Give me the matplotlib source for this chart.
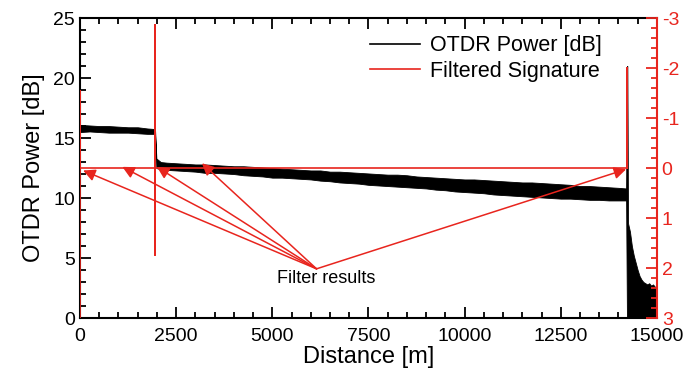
import numpy as np
import matplotlib
matplotlib.use('Agg')
import matplotlib.pyplot as plt
from matplotlib.ticker import MultipleLocator
from matplotlib.lines import Line2D

plt.rcParams['font.family'] = ['Liberation Sans', 'DejaVu Sans']

red = '#e8251e'

# OTDR trace, read as upper / lower edge of the noisy band [dB]
dist = [0, 250, 500, 750, 1000, 1250, 1500, 1750, 1950,
        1985, 2100, 2250, 2500, 2750, 3000, 3250, 3500, 3750, 4000, 4250, 4500,
        4750, 5000, 5250, 5500, 5750, 6000, 6250, 6500, 6750, 7000, 7250, 7500,
        7750, 8000, 8250, 8500, 8750, 9000, 9250, 9500, 9750, 10000, 10250,
        10500, 10750, 11000, 11250, 11500, 11750, 12000, 12250, 12500, 12750,
        13000, 13250, 13500, 13750, 14000, 14200,
        14222, 14232, 14250, 14300, 14350, 14400, 14450, 14500, 14550, 14600,
        14650, 14700, 14750, 14800, 14850, 14900, 14950, 15000]
upper = [16.1, 16.05, 16.0, 16.0, 15.95, 15.9, 15.9, 15.8, 15.75,
         13.3, 13.0, 12.95, 12.9, 12.85, 12.8, 12.8, 12.75, 12.7, 12.65, 12.65, 12.6,
         12.55, 12.5, 12.45, 12.4, 12.35, 12.3, 12.3, 12.2, 12.2, 12.15, 12.1, 12.05,
         12.0, 11.95, 11.95, 11.9, 11.8, 11.75, 11.7, 11.65, 11.6, 11.55, 11.55,
         11.5, 11.45, 11.4, 11.35, 11.3, 11.3, 11.25, 11.2, 11.15, 11.1,
         11.0, 11.0, 10.95, 10.9, 10.85, 10.8,
         21.0, 21.0, 7.9, 7.2, 6.0, 5.2, 4.6, 4.0, 3.5, 3.2,
         3.0, 2.9, 2.8, 2.9, 2.7, 2.8, 2.6, 2.6]
lower = [15.5, 15.55, 15.5, 15.45, 15.45, 15.45, 15.4, 15.35, 15.35,
         12.5, 12.4, 12.35, 12.3, 12.25, 12.2, 12.1, 12.1, 12.05, 12.0, 11.9, 11.85,
         11.8, 11.7, 11.7, 11.65, 11.6, 11.55, 11.45, 11.4, 11.3, 11.25, 11.2, 11.1,
         11.05, 11.0, 10.95, 10.9, 10.85, 10.8, 10.7, 10.65, 10.55, 10.5, 10.45,
         10.4, 10.3, 10.25, 10.2, 10.15, 10.1, 10.05, 10.0, 9.95, 9.95,
         9.9, 9.85, 9.85, 9.8, 9.8, 9.8,
         0, 0, 0, 0, 0, 0, 0, 0, 0, 0,
         0, 0, 0, 0, 0, 0, 0, 0]

# filtered signature (right axis, inverted)
filt_x = [0, 0, 0, 1946, 1946, 1946, 1946, 14228, 14228, 14228]
filt_y = [3, -1.55, 0, 0, -2.86, 1.74, 0, 0, -2.0, 0]

# annotation arrows: text anchor and tips (left-axis units)
arrow_from = (6150, 4.1)
tips_x = [80, 1100, 2000, 3170, 14200]
tips_y = [12.3, 12.6, 12.6, 12.9, 12.4]

fig = plt.figure(figsize=(6.9, 3.85), dpi=100)
ax = fig.add_axes([0.116, 0.174, 0.836, 0.779])
ax2 = ax.twinx()

ax.fill_between(dist, lower, upper, color='black', lw=0.6, edgecolor='black', zorder=2)

ax2.plot(filt_x, filt_y, color=red, lw=1.2)

for tx, ty in zip(tips_x, tips_y):
    ax.annotate('', xy=(tx, ty), xytext=arrow_from,
                arrowprops=dict(arrowstyle='-|>', color=red, lw=1.1,
                                mutation_scale=18, shrinkA=0, shrinkB=0),
                zorder=5)
ax.text(6400, 3.3, 'Filter results', fontsize=13, ha='center', va='center')

ax.set_xlim(0, 15000)
ax.set_ylim(0, 25)
ax2.set_ylim(3, -3)

ax.xaxis.set_major_locator(MultipleLocator(2500))
ax.xaxis.set_minor_locator(MultipleLocator(500))
ax.yaxis.set_major_locator(MultipleLocator(5))
ax.yaxis.set_minor_locator(MultipleLocator(1))
ax2.yaxis.set_minor_locator(MultipleLocator(0.2))
ax2.set_yticks([-3, -2, -1, 0, 1, 2, 3])
ax2.set_yticklabels(['-3', '-2', '-1', '0', '1', '2', '3'])

ax.tick_params(which='both', direction='in', top=True, right=False, labelsize=14, width=1.3)
ax.tick_params(which='major', length=8)
ax.tick_params(which='minor', length=4)
ax.tick_params(axis='x', pad=7)
ax2.tick_params(which='both', direction='in', colors=red, labelsize=14, width=1.3)
ax2.tick_params(which='major', length=8)
ax2.tick_params(which='minor', length=4)

for s in ['left', 'bottom', 'top']:
    ax.spines[s].set_linewidth(1.5)
    ax2.spines[s].set_visible(False)
ax.spines['right'].set_visible(False)
ax2.spines['right'].set_color(red)
ax2.spines['right'].set_linewidth(1.5)

ax.set_xlabel('Distance [m]', fontsize=17, labelpad=1)
ax.set_ylabel('OTDR Power [dB]', fontsize=17, labelpad=6)

handles = [Line2D([], [], color='black', lw=1.2), Line2D([], [], color=red, lw=1.2)]
ax2.legend(handles, ['OTDR Power [dB]', 'Filtered Signature'], loc='upper right',
           bbox_to_anchor=(0.935, 1.0), frameon=False, fontsize=15.5,
           handlelength=2.3, handletextpad=0.5, labelspacing=0.2, borderpad=0.3)

fig.savefig('out.png', dpi=100)
